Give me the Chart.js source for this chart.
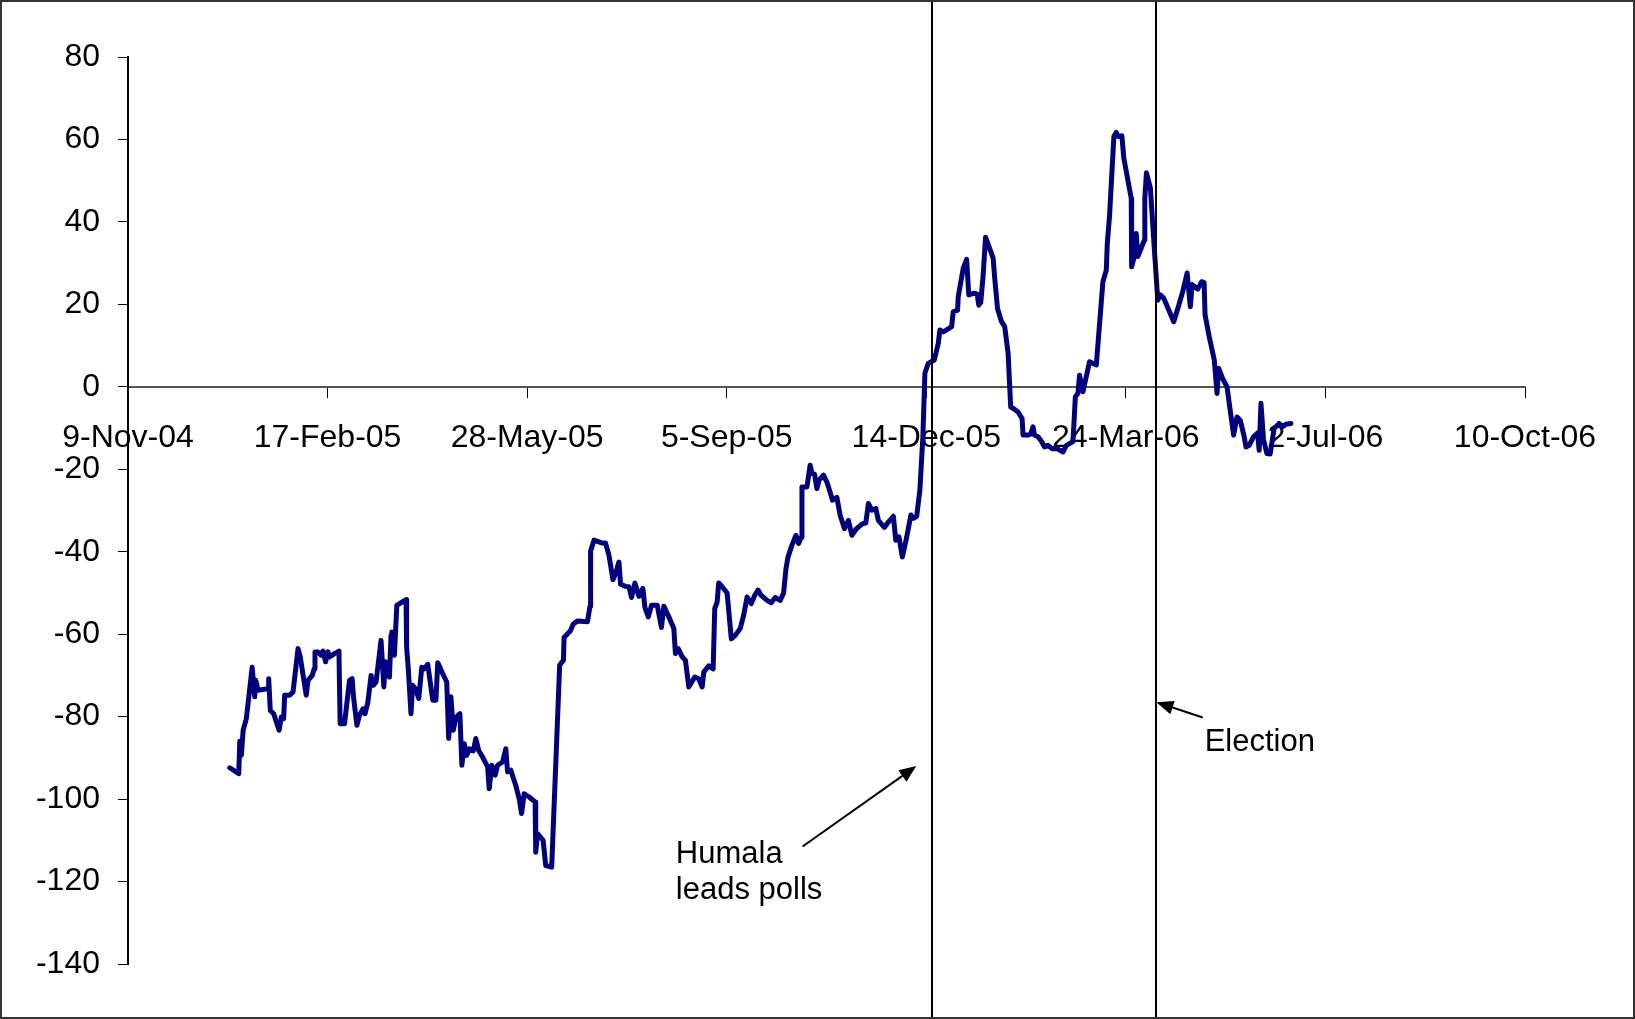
<!DOCTYPE html>
<html><head><meta charset="utf-8">
<script src="https://cdn.jsdelivr.net/npm/chart.js@4/dist/chart.umd.min.js"></script>
<style>html,body{margin:0;padding:0;background:#fff;}canvas{display:block;}</style>
</head><body>
<canvas id="c" width="1635" height="1019"></canvas>
<script>
// x tick labels (every 100 days from 9-Nov-04)
const tickLabels = ['9-Nov-04','17-Feb-05','28-May-05','5-Sep-05','14-Dec-05','24-Mar-06','2-Jul-06','10-Oct-06'];
// days since 9-Nov-04
const days = [51,55.5,56,56.8,57.7,59.3,62.2,63.5,64,65.2,70.2,70.5,71.3,73,75.7,76.8,78,78.5,81,82.7,85.2,86.3,89.3,90.2,92.3,93.3,93.7,95.2,96.8,97.7,99,100.2,101,103.5,105.7,106.3,108.5,111,112.3,113,114.7,116,117.7,118.8,120.2,121.8,123,124.3,126.8,128.2,129,131,131.8,132.2,133.5,134.7,139.3,139.6,140.5,141.8,142.6,144,145.7,147.2,148.5,150.2,152.7,154.3,155.2,157.7,159.7,160.7,161.8,163,164,165.2,166.3,167.3,168.5,169.7,171,173,174.3,175.7,177.7,180.2,181,182.3,184,185.2,187.7,189.3,190.2,191.8,194.3,196,197.2,198.5,201,204,204.3,205.2,208,209.3,212.3,216.3,218.2,218.5,221.8,223,225.2,230.2,231.5,231.8,233.5,237.7,239.3,241,243,244.3,246,246.8,249.3,251,252.3,254,256,258,259,260.7,262.3,265.2,267.3,268.5,271,273.5,274.3,275.7,277.7,279.3,281,284,286,287.7,288.5,291,293.2,294,295.2,296,297.7,300.2,302.3,304.3,306.8,308.5,310.2,312.3,314,315.7,317.3,320.2,322.3,324.3,326.8,328.5,329.7,330.7,332.7,334.7,336,337.3,337.7,340.2,341.8,342.7,344,345.2,346.3,348.5,350.2,351.8,353,355.2,356.8,359,361,362.7,364.7,367.7,369.7,371,372.7,374.7,376,379,381,383.5,384.7,386.3,388,390.2,392.3,393.5,395.2,396.8,398.3,399.3,401,404,406,406.8,408.5,412.7,413.5,415.7,416,418.5,420.2,421.3,424,425.5,426.3,427.3,428.5,429.7,433.5,434.3,435.7,437.7,439.3,441,442.3,443.5,446,448,448.5,451,452.3,453.5,454.2,456,457.7,459.3,461,463,465.5,468.5,470.2,473.5,474.7,476,476.8,478.5,481.8,485.2,488.5,490.2,490.7,491.8,494,495.2,496.3,498,499,502.7,502.9,504,505.2,506,509.3,509.5,510.3,512.3,514.3,516,517.3,519,524,526.3,528.5,530.7,532.3,533.2,536,538,539.2,539.7,541.8,544.3,545.7,546.5,548.5,550.7,551.8,554,555.7,557.3,559.3,560.2,561.8,564,566,566.8,567.7,569,570.7,572.3,574.3,576.8,578.5,580.2,582.7];
const values = [-92.4,-93.8,-86,-89.4,-83.3,-80.5,-68,-75.2,-71.2,-73.6,-73.2,-70.8,-78.5,-79.3,-83.3,-80.1,-80.5,-74.8,-74.8,-74,-63.5,-65.5,-74.8,-71.2,-70,-68.4,-64.3,-64.3,-65.1,-64.1,-66.7,-64.3,-65.5,-64.7,-64.1,-81.7,-81.7,-71.2,-70.8,-75.2,-82.1,-79.7,-78.1,-79.3,-76.5,-70,-72.4,-71.6,-61.5,-72.8,-66.7,-70.4,-60.3,-59.5,-65.1,-53,-51.6,-63.1,-68.8,-79.3,-72.4,-73.2,-75.6,-68,-68.4,-67.3,-76,-76,-66.9,-69.6,-71.6,-85.3,-75.2,-83.3,-80.9,-79.7,-79.3,-91.8,-86.6,-89.4,-87.8,-88.3,-85.3,-88.2,-89.8,-92.2,-97.5,-91.8,-94.2,-91.8,-91,-87.8,-93.4,-93,-96.7,-99.9,-103.5,-98.7,-99.5,-100.7,-112.9,-108.4,-110,-116.1,-116.5,-67.5,-66.3,-60.8,-59.1,-57.6,-56.8,-57,-53.2,-39.8,-37.2,-37.9,-37.9,-40.9,-46.8,-45.3,-42.5,-47.9,-48.4,-48.5,-51.1,-47.6,-50.8,-48.9,-53.5,-55.8,-53,-53,-58.4,-53.2,-55.8,-58.6,-64.7,-63.5,-65.5,-66.3,-72.8,-70.4,-70.8,-72.8,-69.2,-67.7,-68.4,-53.8,-52.2,-47.6,-48.5,-50,-61.1,-60.3,-58.6,-55.4,-51,-52.6,-50.6,-49.3,-50.6,-51.8,-52.4,-51.1,-51.8,-50,-44.1,-41.3,-38.4,-36,-38,-36.5,-24.3,-24.3,-19,-21,-21.2,-24.7,-22.6,-21.4,-23.1,-25.5,-27.5,-26.8,-31.1,-34.4,-32.4,-36,-34.6,-33.3,-33,-28.3,-29.9,-29.5,-32.4,-34.1,-32.8,-31.4,-37.2,-36.4,-41.3,-36.4,-31.1,-31.9,-31.4,-25,-12,3.3,5.7,6.5,10.5,13.8,13.3,14.6,18.2,18.6,21.8,28.7,30.9,22.3,22.7,22.5,19.8,20.5,27.1,36.3,31.2,26.3,19,15.8,14.6,8.1,-4.9,-5.2,-6.1,-7.7,-11.7,-11.7,-11.5,-9.7,-11.7,-12.1,-13.2,-14.6,-14.2,-15,-15,-15.8,-14.2,-13.3,-2.4,-1.6,2.8,-1.2,6.1,5.3,25.5,28.3,34.8,41.3,60.7,61.7,60.7,60.9,55.4,45.7,29.1,31.2,37.2,31.6,35.6,45.7,51.9,48.2,33.2,21,22.3,21.5,15.8,19.4,23.1,27.6,19.4,24.8,23.7,25.5,25.3,17.4,12.1,6.5,-1.6,4.5,2,0,-4,-11.7,-7.3,-8.1,-12.1,-14.6,-14.2,-12.1,-11.2,-15.4,-4,-12.9,-16.2,-16.3,-10.1,-8.9,-9.7,-9.1,-8.9];
// event markers (days since 9-Nov-04)
const eventDays = [403, 515];
const notes = [
  {lines:['Humala','leads polls'], tx:274.5, ty:-115.4, from:[338,-111.5], to:[395,-92]},
  {lines:['Election'], tx:539.5, ty:-88.3, from:[538.5,-80.2], to:[515.3,-76.5]}
];

const FONT = "'Liberation Sans', Arial, sans-serif";

const overlay = {
  id:'overlay',
  afterDraw(chart){
    const ctx = chart.ctx, xs = chart.scales.x, ys = chart.scales.y;
    const W = chart.width, H = chart.height;
    ctx.save();
    ctx.strokeStyle = '#000'; ctx.lineWidth = 2;
    eventDays.forEach(d => {
      const x = Math.round(xs.getPixelForValue(d));
      ctx.beginPath(); ctx.moveTo(x, 0); ctx.lineTo(x, H); ctx.stroke();
    });
    ctx.fillStyle = '#000';
    ctx.font = '31px ' + FONT;
    ctx.textBaseline = 'alphabetic'; ctx.textAlign = 'left';
    notes.forEach(n => {
      const tx = xs.getPixelForValue(n.tx), ty = ys.getPixelForValue(n.ty);
      n.lines.forEach((l, i) => ctx.fillText(l, tx, ty + i * 36));
      const x1 = xs.getPixelForValue(n.from[0]), y1 = ys.getPixelForValue(n.from[1]);
      const x2 = xs.getPixelForValue(n.to[0]), y2 = ys.getPixelForValue(n.to[1]);
      const ang = Math.atan2(y2 - y1, x2 - x1);
      const hl = 17, hw = 7;
      const bx = x2 - hl * Math.cos(ang), by = y2 - hl * Math.sin(ang);
      ctx.lineWidth = 2;
      ctx.beginPath(); ctx.moveTo(x1, y1); ctx.lineTo(bx, by); ctx.stroke();
      ctx.beginPath();
      ctx.moveTo(x2, y2);
      ctx.lineTo(bx + hw * Math.sin(ang), by - hw * Math.cos(ang));
      ctx.lineTo(bx - hw * Math.sin(ang), by + hw * Math.cos(ang));
      ctx.closePath(); ctx.fill();
    });
    ctx.strokeStyle = '#333'; ctx.lineWidth = 2;
    ctx.strokeRect(1, 1, W - 2, H - 2);
    ctx.restore();
  }
};

new Chart(document.getElementById('c'), {
  type: 'line',
  data: {
    datasets: [{
      data: days.map((d, i) => ({x: d, y: values[i]})),
      borderColor: '#000080',
      borderWidth: 5,
      pointRadius: 0,
      tension: 0,
      fill: false,
      borderJoinStyle: 'round',
      borderCapStyle: 'round'
    }]
  },
  options: {
    responsive: false,
    devicePixelRatio: 1,
    animation: false,
    layout: {padding: {left: 0, top: 57, right: 110, bottom: 55}},
    plugins: {legend: {display: false}, tooltip: {enabled: false}},
    scales: {
      x: {
        type: 'linear',
        min: 0, max: 700,
        position: {y: 0},
        afterFit: s => { s.height = 0; },
        ticks: {
          stepSize: 100,
          autoSkip: false,
          maxRotation: 0,
          padding: 22,
          color: '#000',
          font: {family: FONT, size: 32},
          callback: v => tickLabels[Math.round(v / 100)]
        },
        grid: {display: true, drawOnChartArea: false, drawTicks: true, tickLength: 10, color: '#000', lineWidth: 1},
        border: {display: true, color: '#555', width: 2}
      },
      y: {
        min: -140, max: 80,
        afterFit: s => { s.width = 128; },
        ticks: {
          stepSize: 20,
          padding: 18,
          color: '#000',
          font: {family: FONT, size: 32}
        },
        grid: {display: true, drawOnChartArea: false, drawTicks: true, tickLength: 10, color: '#000', lineWidth: 1},
        border: {display: true, color: '#000', width: 2}
      }
    }
  },
  plugins: [overlay]
});
</script>
</body></html>
